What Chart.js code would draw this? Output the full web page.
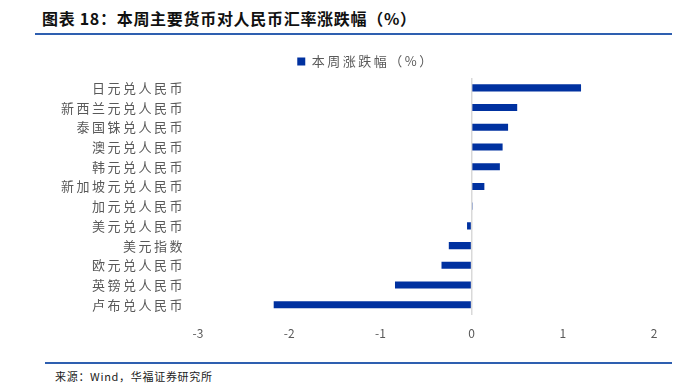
<!DOCTYPE html>
<html><head><meta charset="utf-8">
<script src="https://cdn.jsdelivr.net/npm/chart.js@4"></script>
<style>
html,body{margin:0;padding:0;background:#fff;width:686px;height:385px;overflow:hidden;}
#title{position:absolute;left:42px;top:6px;font-family:"Noto Sans CJK SC",sans-serif;font-weight:bold;font-size:16px;letter-spacing:0.7px;color:#111;white-space:nowrap;}
#l1{position:absolute;left:35px;top:33px;width:637px;height:1.5px;background:#2e5fb0;}
#l2{position:absolute;left:45px;top:362px;width:627px;height:1.5px;background:#2e5fb0;}
#src{position:absolute;left:55px;top:368px;font-family:"Noto Sans CJK SC",sans-serif;font-size:11px;letter-spacing:0.7px;color:#222;white-space:nowrap;}
#wrap{position:absolute;left:0;top:45px;width:686px;height:308px;}
</style></head><body>
<div id="title">图表 18：本周主要货币对人民币汇率涨跌幅（%）</div>
<div id="l1"></div>
<div id="wrap"><canvas id="c"></canvas></div>
<div id="l2"></div>
<div id="src">来源：Wind，华福证券研究所</div>
<script>
const categories = ["日元兑人民币","新西兰元兑人民币","泰国铢兑人民币","澳元兑人民币","韩元兑人民币","新加坡元兑人民币","加元兑人民币","美元兑人民币","美元指数","欧元兑人民币","英镑兑人民币","卢布兑人民币"];
const weeklyChange = [1.20, 0.50, 0.40, 0.34, 0.31, 0.14, 0.005, -0.05, -0.25, -0.33, -0.84, -2.17];
const seriesName = "本周涨跌幅（%）";
const xTicks = [-3, -2, -1, 0, 1, 2];

const fam = '"Noto Sans CJK SC", sans-serif';
const SP = '2.5px';
const spacing = {
  id: 'spacing',
  beforeLayout(chart) {
    chart.ctx.letterSpacing = SP;
    const xs = chart.scales.x;
    if (xs && !xs._wrapped) {
      const orig = xs.drawLabels;
      xs.drawLabels = function (a) {
        const ctx = this.ctx; ctx.letterSpacing = '0px';
        orig.call(this, a);
        ctx.letterSpacing = SP;
      };
      xs._wrapped = true;
    }
  },
  afterLayout(chart) {
    // shift legend to the right so it sits over the plot like the reference
    if (chart.legend) { chart.legend.left += 39; chart.legend.right += 39; }
  },
  beforeDraw(chart) { chart.ctx.letterSpacing = SP; }
};
new Chart(document.getElementById('c'), {
  type: 'bar',
  data: {
    labels: categories,
    datasets: [{
      label: seriesName,
      data: weeklyChange,
      backgroundColor: '#0031a0',
      borderWidth: 0,
      categoryPercentage: 1,
      barPercentage: 0.36
    }]
  },
  plugins: [spacing],
  options: {
    indexAxis: 'y',
    responsive: true,
    maintainAspectRatio: false,
    animation: false,
    layout: { padding: { left: 0, right: 32, top: 0, bottom: 0 } },
    plugins: {
      legend: {
        display: true,
        position: 'top',
        labels: { boxWidth: 8, boxHeight: 8, padding: 10, color: '#595959', font: { family: fam, size: 13 } }
      },
      tooltip: { enabled: false }
    },
    scales: {
      x: {
        min: -3, max: 2,
        afterBuildTicks: s => { s.ticks = xTicks.map(v => ({ value: v })); },
        grid: {
          drawTicks: false,
          color: c => (c.tick && c.tick.value === 0) ? '#d9d9d9' : 'rgba(0,0,0,0)',
          lineWidth: 1.5
        },
        border: { display: false },
        ticks: { color: '#595959', padding: 12, font: { family: fam, size: 12 } }
      },
      y: {
        grid: { display: false, drawTicks: false },
        border: { display: false },
        afterFit: s => { s.width = 198; },
        ticks: { autoSkip: false, color: '#595959', padding: 13, font: { family: fam, size: 13 } }
      }
    }
  }
});
</script>
</body></html>
